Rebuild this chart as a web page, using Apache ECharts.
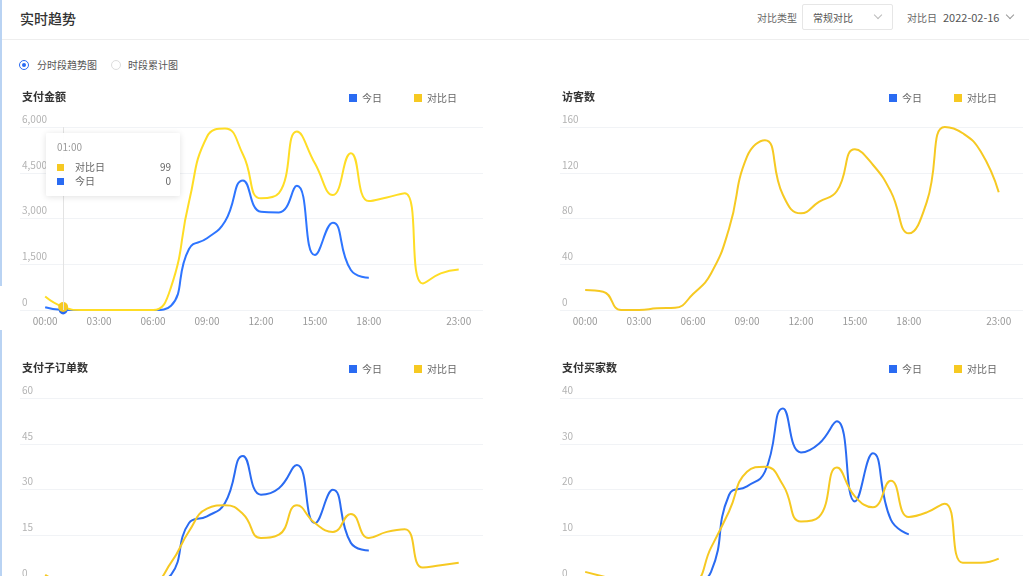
<!DOCTYPE html>
<html>
<head>
<meta charset="utf-8">
<script src="https://cdn.jsdelivr.net/npm/echarts@6/dist/echarts.min.js"></script>
<style>
html,body{margin:0;padding:0;width:1029px;height:576px;overflow:hidden;background:#fff;font-family:"Noto Sans CJK SC","Noto Sans",sans-serif;}
.abs{position:absolute;}
.chart{position:absolute;}
</style>
</head>
<body>
<div class="abs" style="left:0;top:0;width:2px;height:286px;background:#b9d3f3"></div>
<div class="abs" style="left:0;top:330px;width:2px;height:246px;background:#b9d3f3"></div>
<div class="abs" style="left:20px;top:8px;font-size:14px;color:#333;font-weight:500;line-height:20px">实时趋势</div>
<div class="abs" style="left:2px;top:39px;width:1027px;height:1px;background:#eeeeee"></div>
<div class="abs" style="left:757px;top:11px;font-size:10px;color:#666;line-height:14px">对比类型</div>
<div class="abs" style="left:802px;top:4px;width:91px;height:26px;border:1px solid #e6e6e6;border-radius:2px;box-sizing:border-box"></div>
<div class="abs" style="left:813px;top:11px;font-size:10px;color:#555;line-height:14px">常规对比</div>
<div class="abs" style="left:875px;top:12px;width:5px;height:5px;border-right:1px solid #bbb;border-bottom:1px solid #bbb;transform:rotate(45deg)"></div>
<div class="abs" style="left:907px;top:11px;font-size:10px;color:#666;line-height:14px">对比日</div>
<div class="abs" style="left:943px;top:10px;font-size:11px;color:#555;line-height:15px">2022-02-16</div>
<div class="abs" style="left:1007px;top:12px;width:5px;height:5px;border-right:1px solid #999;border-bottom:1px solid #999;transform:rotate(45deg)"></div>
<div class="abs" style="left:19px;top:60px;width:10px;height:10px;border:1px solid #2a6bf2;border-radius:50%;box-sizing:border-box"></div>
<div class="abs" style="left:22px;top:63px;width:4px;height:4px;background:#2a6bf2;border-radius:50%"></div>
<div class="abs" style="left:37px;top:58px;font-size:10px;color:#555;line-height:14px">分时段趋势图</div>
<div class="abs" style="left:111px;top:60px;width:10px;height:10px;border:1px solid #ddd;border-radius:50%;box-sizing:border-box"></div>
<div class="abs" style="left:128px;top:58px;font-size:10px;color:#555;line-height:14px">时段累计图</div>

<div id="c1" class="chart" style="left:0;top:80px;width:515px;height:260px"></div>
<div id="c2" class="chart" style="left:540px;top:80px;width:489px;height:260px"></div>
<div id="c3" class="chart" style="left:0;top:351px;width:515px;height:260px"></div>
<div id="c4" class="chart" style="left:540px;top:351px;width:489px;height:260px"></div>

<script>
const hours = ['00:00','01:00','02:00','03:00','04:00','05:00','06:00','07:00','08:00','09:00','10:00','11:00','12:00','13:00','14:00','15:00','16:00','17:00','18:00','19:00','20:00','21:00','22:00','23:00'];
const labelHours = [0,3,6,9,12,15,18,23];
const seriesNames = ['今日','对比日'];

const payAmountToday   = [90,0,0,0,0,0,0,140,2000,2350,2900,4250,3220,3200,4070,1800,2860,1310,1060,null,null,null,null,null];
const payAmountCompare = [440,99,0,0,0,0,0,750,3550,5680,5950,5100,3660,3830,5850,4810,3770,5140,3570,3690,3830,870,1200,1330];
const payAmountTicks   = [0,6000,1500];

const visitorsToday    = [];
const visitorsCompare  = [17.5,16,0,0,1.5,2,14,32,71,134,148.5,100.5,84.5,94.5,104,140.5,127,103.5,67,94.5,160,154.5,138.5,103];
const visitorsTicks    = [0,160,40];

const subOrdersToday   = [0,0,0,0,0,0,0,2,19,21.2,25.6,41,28.3,30.4,38,19,29.9,12.5,10,null,null,null,null,null];
const subOrdersCompare = [2,0,0,0,0,0,0,6,16.3,23.7,24.8,22,14.1,15.2,24.8,19,16.1,22,14.1,16.1,17,4.4,5.2,6];
const subOrdersTicks   = [0,60,15];

const buyersToday      = [0,0,0,0,0,0,0,2,18.8,20.7,23.9,37.7,28.1,30,34.9,17.4,27.9,13.4,10.2,null,null,null,null,null];
const buyersCompare    = [2,1,0,0,0,0,0,7.3,15.2,23.9,25,21,13,14,24.8,18.5,16.1,21.9,14,15,16.9,4,4,4.9];
const buyersTicks      = [0,40,10];

const BLUE = '#2a6bf2', YELLOW = '#f6c922';
const FONT = '"Noto Sans CJK SC","Noto Sans",sans-serif';

function toPairs(arr){
  const out = [];
  arr.forEach((v,i)=>{ if(v!==null && v!==undefined) out.push([i,v]); });
  return out;
}

function makeOption(title, today, compare, ticks, withTip){
  return {
    animation:false,
    textStyle:{fontFamily:FONT},
    color:[BLUE,YELLOW],
    title:{text:title,left:22,top:11,padding:0,textStyle:{fontSize:11,fontWeight:'bold',color:'#333',fontFamily:FONT}},
    legend:{data:seriesNames,left:344,top:8,icon:'rect',itemWidth:8,itemHeight:8,itemGap:32,
      textStyle:{fontSize:10,color:'#666',fontFamily:FONT}},
    grid:{left:20,top:47,width:463,height:183,containLabel:false},
    tooltip: withTip ? {
      trigger:'axis',alwaysShowContent:true,transitionDuration:0,
      position:[46,53],
      backgroundColor:'rgba(255,255,255,0.97)',borderWidth:0,padding:[7,9,8,11],
      extraCssText:'box-shadow:0 1px 6px rgba(0,0,0,0.12);border-radius:2px;',
      axisPointer:{type:'line',snap:true,lineStyle:{color:'#e3e3e3',width:1,type:'solid'}},
      formatter:function(params){
        const ps = params.slice().reverse();
        let h = '<div style="font-family:'+FONT.replace(/"/g,"'")+';width:114px">';
        h += '<div style="color:#999;font-size:10px;line-height:14px;margin-bottom:6px">'+hours[Math.round(ps[0].value[0])]+'</div>';
        ps.forEach(p=>{
          h += '<div style="display:flex;justify-content:space-between;align-items:center;font-size:10px;color:#666;line-height:14px">'+
               '<span><span style="display:inline-block;width:7px;height:7px;background:'+p.color+';margin-right:11px;vertical-align:0px"></span>'+p.seriesName+'</span>'+
               '<span>'+p.value[1]+'</span></div>';
        });
        return h + '</div>';
      }
    } : {show:false},
    xAxis:{type:'value',min:-1.4,max:24.35,
      axisLine:{show:false},axisTick:{show:false},splitLine:{show:false},
      axisLabel:{customValues:labelHours,formatter:v=>hours[v],color:'#999',fontSize:10,margin:6,fontFamily:FONT}},
    yAxis:{type:'value',min:ticks[0],max:ticks[1],interval:ticks[2],
      axisLine:{show:false},axisTick:{show:false},
      splitLine:{lineStyle:{color:'#f1f3f6',width:1}},
      axisLabel:{inside:true,margin:2,verticalAlign:'bottom',padding:[0,0,3,0],color:'#b3b3b3',fontSize:10,fontFamily:FONT}},
    series:[
      {name:seriesNames[0],type:'line',smooth:true,showSymbol:false,symbol:'circle',symbolSize:8,
        lineStyle:{width:2,color:BLUE},itemStyle:{color:BLUE},data:toPairs(today)},
      {name:seriesNames[1],type:'line',smooth:true,showSymbol:false,symbol:'circle',symbolSize:9,
        lineStyle:{width:2,color:YELLOW},itemStyle:{color:YELLOW},data:toPairs(compare)}
    ]
  };
}

const c1 = echarts.init(document.getElementById('c1'),null,{renderer:'canvas'});
c1.setOption(makeOption('支付金额',payAmountToday,payAmountCompare,payAmountTicks,true));
const c2 = echarts.init(document.getElementById('c2'));
c2.setOption(makeOption('访客数',visitorsToday,visitorsCompare,visitorsTicks,false));
const c3 = echarts.init(document.getElementById('c3'));
c3.setOption(makeOption('支付子订单数',subOrdersToday,subOrdersCompare,subOrdersTicks,false));
const c4 = echarts.init(document.getElementById('c4'));
c4.setOption(makeOption('支付买家数',buyersToday,buyersCompare,buyersTicks,false));

c1.dispatchAction({type:'showTip',seriesIndex:1,dataIndex:1});
</script>
</body>
</html>
